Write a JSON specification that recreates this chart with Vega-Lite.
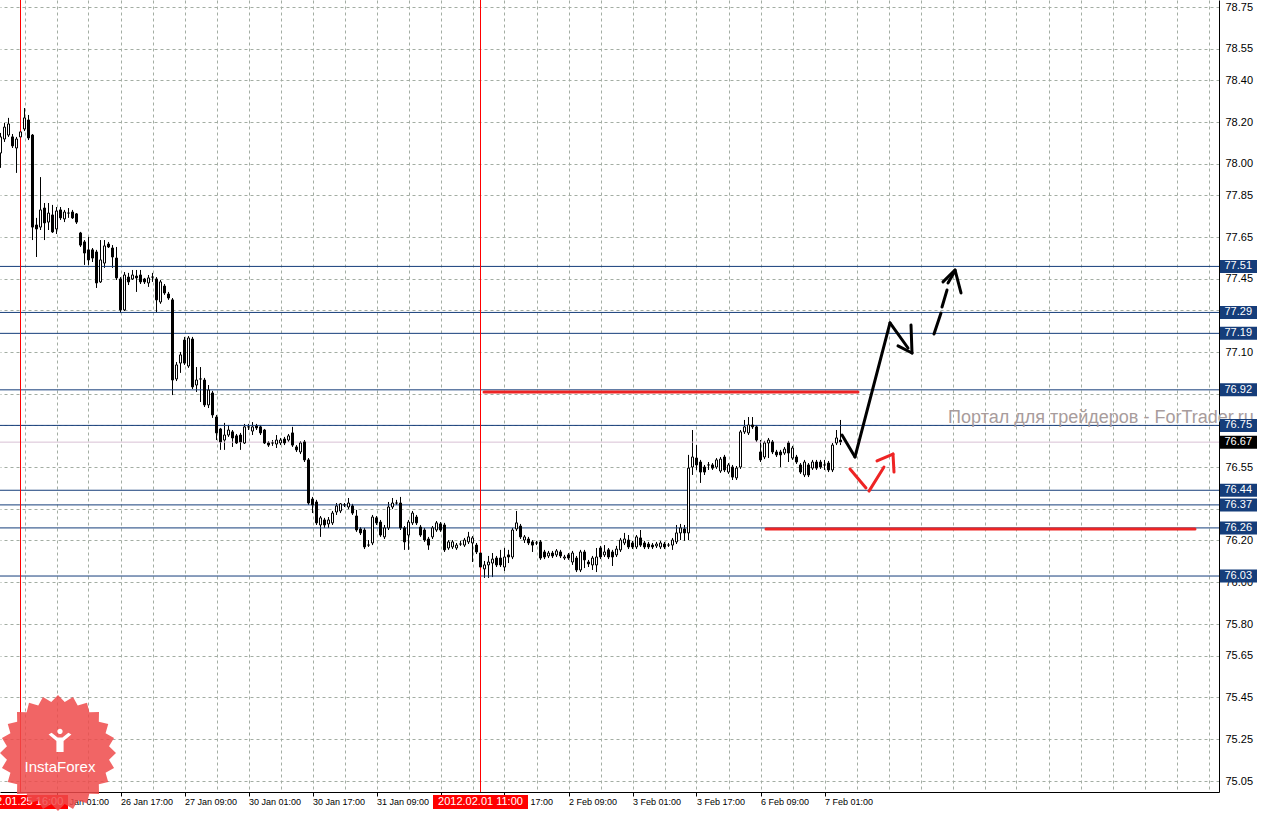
{
"$schema":"https://vega.github.io/schema/vega-lite/v6.json",
"width":1219,"height":792,
"autosize":{"type":"none"},
"padding":{"left":0,"top":0,"right":44,"bottom":23},
"background":"#FFFFFF",
"view":{"stroke":null},
"config":{"axis":{"labelOverlap":false,"labelFlush":false,"labelBound":false}},
"resolve":{"axis":{"x":"independent","y":"independent"}},
"datasets":{
"candles":[
{"i":-14,"o":78.052,"h":78.148,"l":77.981,"c":78.129},
{"i":-13,"o":78.119,"h":78.196,"l":78.105,"c":78.176},
{"i":-12,"o":78.138,"h":78.220,"l":78.129,"c":78.191},
{"i":-11,"o":78.129,"h":78.143,"l":78.076,"c":78.086},
{"i":-10,"o":78.076,"h":78.129,"l":77.957,"c":78.119},
{"i":-9,"o":78.129,"h":78.162,"l":78.119,"c":78.153},
{"i":-8,"o":78.167,"h":78.267,"l":78.157,"c":78.220},
{"i":-7,"o":78.210,"h":78.234,"l":78.114,"c":78.124},
{"i":-6,"o":78.138,"h":78.143,"l":77.636,"c":77.698},
{"i":-5,"o":77.708,"h":77.742,"l":77.555,"c":77.689},
{"i":-4,"o":77.698,"h":77.937,"l":77.684,"c":77.780},
{"i":-3,"o":77.789,"h":77.813,"l":77.636,"c":77.718},
{"i":-2,"o":77.722,"h":77.813,"l":77.684,"c":77.765},
{"i":-1,"o":77.756,"h":77.804,"l":77.670,"c":77.675},
{"i":0,"o":77.689,"h":77.794,"l":77.665,"c":77.775},
{"i":1,"o":77.780,"h":77.794,"l":77.732,"c":77.742},
{"i":2,"o":77.737,"h":77.780,"l":77.722,"c":77.770},
{"i":3,"o":77.765,"h":77.789,"l":77.742,"c":77.765},
{"i":4,"o":77.770,"h":77.780,"l":77.737,"c":77.742},
{"i":5,"o":77.761,"h":77.765,"l":77.713,"c":77.722},
{"i":6,"o":77.670,"h":77.675,"l":77.603,"c":77.612},
{"i":7,"o":77.627,"h":77.636,"l":77.517,"c":77.574},
{"i":8,"o":77.589,"h":77.651,"l":77.517,"c":77.541},
{"i":9,"o":77.589,"h":77.598,"l":77.531,"c":77.550},
{"i":10,"o":77.579,"h":77.589,"l":77.407,"c":77.431},
{"i":11,"o":77.436,"h":77.636,"l":77.431,"c":77.541},
{"i":12,"o":77.526,"h":77.636,"l":77.503,"c":77.608},
{"i":13,"o":77.617,"h":77.627,"l":77.598,"c":77.603},
{"i":14,"o":77.598,"h":77.612,"l":77.503,"c":77.555},
{"i":15,"o":77.550,"h":77.603,"l":77.445,"c":77.455},
{"i":16,"o":77.450,"h":77.459,"l":77.287,"c":77.302},
{"i":17,"o":77.302,"h":77.483,"l":77.297,"c":77.469},
{"i":18,"o":77.459,"h":77.479,"l":77.421,"c":77.436},
{"i":19,"o":77.450,"h":77.493,"l":77.445,"c":77.469},
{"i":20,"o":77.464,"h":77.493,"l":77.388,"c":77.455},
{"i":21,"o":77.469,"h":77.493,"l":77.426,"c":77.436},
{"i":22,"o":77.450,"h":77.455,"l":77.426,"c":77.436},
{"i":23,"o":77.431,"h":77.469,"l":77.412,"c":77.455},
{"i":24,"o":77.459,"h":77.479,"l":77.436,"c":77.459},
{"i":25,"o":77.450,"h":77.459,"l":77.292,"c":77.350},
{"i":26,"o":77.340,"h":77.445,"l":77.331,"c":77.436},
{"i":27,"o":77.416,"h":77.426,"l":77.374,"c":77.383},
{"i":28,"o":77.378,"h":77.388,"l":77.350,"c":77.359},
{"i":29,"o":77.350,"h":77.359,"l":76.895,"c":76.967},
{"i":30,"o":76.972,"h":77.053,"l":76.962,"c":77.039},
{"i":31,"o":77.048,"h":77.101,"l":77.001,"c":77.087},
{"i":32,"o":77.158,"h":77.173,"l":77.039,"c":77.048},
{"i":33,"o":77.034,"h":77.177,"l":77.025,"c":77.168},
{"i":34,"o":77.163,"h":77.173,"l":76.924,"c":76.934},
{"i":35,"o":76.943,"h":77.029,"l":76.910,"c":76.967},
{"i":36,"o":76.972,"h":77.029,"l":76.862,"c":76.972},
{"i":37,"o":76.967,"h":76.977,"l":76.838,"c":76.848},
{"i":38,"o":76.848,"h":76.943,"l":76.833,"c":76.919},
{"i":39,"o":76.905,"h":76.915,"l":76.786,"c":76.800},
{"i":40,"o":76.790,"h":76.800,"l":76.680,"c":76.714},
{"i":41,"o":76.733,"h":76.738,"l":76.633,"c":76.671},
{"i":42,"o":76.680,"h":76.762,"l":76.633,"c":76.704},
{"i":43,"o":76.704,"h":76.752,"l":76.695,"c":76.728},
{"i":44,"o":76.719,"h":76.728,"l":76.647,"c":76.690},
{"i":45,"o":76.700,"h":76.709,"l":76.661,"c":76.666},
{"i":46,"o":76.704,"h":76.714,"l":76.633,"c":76.671},
{"i":47,"o":76.666,"h":76.757,"l":76.661,"c":76.743},
{"i":48,"o":76.743,"h":76.757,"l":76.728,"c":76.743},
{"i":49,"o":76.723,"h":76.766,"l":76.704,"c":76.743},
{"i":50,"o":76.747,"h":76.757,"l":76.728,"c":76.738},
{"i":51,"o":76.743,"h":76.752,"l":76.704,"c":76.714},
{"i":52,"o":76.728,"h":76.733,"l":76.661,"c":76.666},
{"i":53,"o":76.666,"h":76.675,"l":76.647,"c":76.656},
{"i":54,"o":76.666,"h":76.680,"l":76.652,"c":76.666},
{"i":55,"o":76.661,"h":76.704,"l":76.642,"c":76.680},
{"i":56,"o":76.666,"h":76.690,"l":76.656,"c":76.680},
{"i":57,"o":76.685,"h":76.695,"l":76.656,"c":76.666},
{"i":58,"o":76.680,"h":76.709,"l":76.671,"c":76.700},
{"i":59,"o":76.714,"h":76.743,"l":76.647,"c":76.656},
{"i":60,"o":76.647,"h":76.656,"l":76.623,"c":76.633},
{"i":61,"o":76.623,"h":76.675,"l":76.613,"c":76.666},
{"i":62,"o":76.671,"h":76.680,"l":76.575,"c":76.585},
{"i":63,"o":76.585,"h":76.594,"l":76.370,"c":76.379},
{"i":64,"o":76.398,"h":76.408,"l":76.331,"c":76.370},
{"i":65,"o":76.384,"h":76.394,"l":76.274,"c":76.284},
{"i":66,"o":76.274,"h":76.317,"l":76.217,"c":76.308},
{"i":67,"o":76.298,"h":76.308,"l":76.260,"c":76.274},
{"i":68,"o":76.279,"h":76.312,"l":76.260,"c":76.298},
{"i":69,"o":76.284,"h":76.341,"l":76.274,"c":76.331},
{"i":70,"o":76.336,"h":76.379,"l":76.322,"c":76.365},
{"i":71,"o":76.341,"h":76.379,"l":76.331,"c":76.375},
{"i":72,"o":76.370,"h":76.379,"l":76.360,"c":76.370},
{"i":73,"o":76.360,"h":76.403,"l":76.350,"c":76.379},
{"i":74,"o":76.365,"h":76.375,"l":76.322,"c":76.331},
{"i":75,"o":76.317,"h":76.346,"l":76.241,"c":76.250},
{"i":76,"o":76.255,"h":76.264,"l":76.226,"c":76.236},
{"i":77,"o":76.250,"h":76.260,"l":76.159,"c":76.169},
{"i":78,"o":76.178,"h":76.202,"l":76.169,"c":76.178},
{"i":79,"o":76.188,"h":76.322,"l":76.178,"c":76.312},
{"i":80,"o":76.308,"h":76.317,"l":76.274,"c":76.284},
{"i":81,"o":76.288,"h":76.298,"l":76.217,"c":76.226},
{"i":82,"o":76.217,"h":76.274,"l":76.207,"c":76.260},
{"i":83,"o":76.260,"h":76.384,"l":76.250,"c":76.360},
{"i":84,"o":76.360,"h":76.403,"l":76.350,"c":76.379},
{"i":85,"o":76.379,"h":76.394,"l":76.370,"c":76.379},
{"i":86,"o":76.379,"h":76.408,"l":76.250,"c":76.260},
{"i":87,"o":76.260,"h":76.269,"l":76.155,"c":76.193},
{"i":88,"o":76.226,"h":76.298,"l":76.155,"c":76.288},
{"i":89,"o":76.284,"h":76.341,"l":76.274,"c":76.331},
{"i":90,"o":76.312,"h":76.322,"l":76.274,"c":76.284},
{"i":91,"o":76.264,"h":76.274,"l":76.217,"c":76.226},
{"i":92,"o":76.250,"h":76.260,"l":76.193,"c":76.202},
{"i":93,"o":76.207,"h":76.217,"l":76.155,"c":76.178},
{"i":94,"o":76.217,"h":76.269,"l":76.207,"c":76.260},
{"i":95,"o":76.250,"h":76.293,"l":76.241,"c":76.284},
{"i":96,"o":76.279,"h":76.288,"l":76.241,"c":76.250},
{"i":97,"o":76.274,"h":76.284,"l":76.145,"c":76.155},
{"i":98,"o":76.164,"h":76.202,"l":76.155,"c":76.193},
{"i":99,"o":76.169,"h":76.202,"l":76.159,"c":76.193},
{"i":100,"o":76.164,"h":76.188,"l":76.155,"c":76.178},
{"i":101,"o":76.183,"h":76.198,"l":76.174,"c":76.183},
{"i":102,"o":76.178,"h":76.212,"l":76.169,"c":76.202},
{"i":103,"o":76.193,"h":76.241,"l":76.183,"c":76.217},
{"i":104,"o":76.188,"h":76.221,"l":76.097,"c":76.212},
{"i":105,"o":76.178,"h":76.188,"l":76.135,"c":76.145},
{"i":106,"o":76.140,"h":76.150,"l":76.064,"c":76.073},
{"i":107,"o":76.064,"h":76.102,"l":76.021,"c":76.083},
{"i":108,"o":76.083,"h":76.126,"l":76.021,"c":76.097},
{"i":109,"o":76.092,"h":76.140,"l":76.025,"c":76.111},
{"i":110,"o":76.116,"h":76.126,"l":76.073,"c":76.083},
{"i":111,"o":76.116,"h":76.155,"l":76.073,"c":76.083},
{"i":112,"o":76.073,"h":76.164,"l":76.054,"c":76.121},
{"i":113,"o":76.131,"h":76.155,"l":76.092,"c":76.121},
{"i":114,"o":76.121,"h":76.260,"l":76.111,"c":76.250},
{"i":115,"o":76.255,"h":76.341,"l":76.245,"c":76.284},
{"i":116,"o":76.269,"h":76.279,"l":76.207,"c":76.217},
{"i":117,"o":76.202,"h":76.226,"l":76.188,"c":76.217},
{"i":118,"o":76.207,"h":76.217,"l":76.178,"c":76.188},
{"i":119,"o":76.193,"h":76.202,"l":76.145,"c":76.178},
{"i":120,"o":76.188,"h":76.198,"l":76.178,"c":76.188},
{"i":121,"o":76.193,"h":76.202,"l":76.107,"c":76.116},
{"i":122,"o":76.145,"h":76.155,"l":76.111,"c":76.121},
{"i":123,"o":76.126,"h":76.150,"l":76.116,"c":76.140},
{"i":124,"o":76.140,"h":76.150,"l":76.116,"c":76.126},
{"i":125,"o":76.131,"h":76.159,"l":76.121,"c":76.150},
{"i":126,"o":76.145,"h":76.155,"l":76.116,"c":76.126},
{"i":127,"o":76.116,"h":76.131,"l":76.107,"c":76.121},
{"i":128,"o":76.131,"h":76.140,"l":76.107,"c":76.116},
{"i":129,"o":76.097,"h":76.150,"l":76.083,"c":76.140},
{"i":130,"o":76.116,"h":76.126,"l":76.049,"c":76.059},
{"i":131,"o":76.059,"h":76.155,"l":76.049,"c":76.145},
{"i":132,"o":76.145,"h":76.155,"l":76.068,"c":76.107},
{"i":133,"o":76.097,"h":76.107,"l":76.073,"c":76.088},
{"i":134,"o":76.083,"h":76.126,"l":76.059,"c":76.116},
{"i":135,"o":76.083,"h":76.164,"l":76.049,"c":76.121},
{"i":136,"o":76.164,"h":76.174,"l":76.111,"c":76.121},
{"i":137,"o":76.131,"h":76.178,"l":76.121,"c":76.145},
{"i":138,"o":76.155,"h":76.164,"l":76.111,"c":76.121},
{"i":139,"o":76.145,"h":76.155,"l":76.078,"c":76.121},
{"i":140,"o":76.131,"h":76.174,"l":76.121,"c":76.159},
{"i":141,"o":76.155,"h":76.212,"l":76.145,"c":76.202},
{"i":142,"o":76.188,"h":76.236,"l":76.178,"c":76.207},
{"i":143,"o":76.202,"h":76.226,"l":76.159,"c":76.169},
{"i":144,"o":76.188,"h":76.198,"l":76.159,"c":76.169},
{"i":145,"o":76.169,"h":76.226,"l":76.159,"c":76.217},
{"i":146,"o":76.212,"h":76.250,"l":76.169,"c":76.178},
{"i":147,"o":76.188,"h":76.198,"l":76.159,"c":76.169},
{"i":148,"o":76.183,"h":76.193,"l":76.159,"c":76.169},
{"i":149,"o":76.178,"h":76.188,"l":76.159,"c":76.169},
{"i":150,"o":76.174,"h":76.193,"l":76.164,"c":76.183},
{"i":151,"o":76.169,"h":76.198,"l":76.159,"c":76.188},
{"i":152,"o":76.183,"h":76.193,"l":76.159,"c":76.169},
{"i":153,"o":76.178,"h":76.188,"l":76.169,"c":76.178},
{"i":154,"o":76.178,"h":76.212,"l":76.155,"c":76.202},
{"i":155,"o":76.193,"h":76.274,"l":76.183,"c":76.236},
{"i":156,"o":76.236,"h":76.279,"l":76.202,"c":76.260},
{"i":157,"o":76.255,"h":76.274,"l":76.198,"c":76.236},
{"i":158,"o":76.236,"h":76.609,"l":76.202,"c":76.546},
{"i":159,"o":76.551,"h":76.728,"l":76.513,"c":76.599},
{"i":160,"o":76.594,"h":76.656,"l":76.537,"c":76.561},
{"i":161,"o":76.575,"h":76.585,"l":76.475,"c":76.527},
{"i":162,"o":76.551,"h":76.561,"l":76.513,"c":76.527},
{"i":163,"o":76.561,"h":76.575,"l":76.537,"c":76.561},
{"i":164,"o":76.561,"h":76.570,"l":76.537,"c":76.546},
{"i":165,"o":76.551,"h":76.594,"l":76.542,"c":76.585},
{"i":166,"o":76.532,"h":76.599,"l":76.523,"c":76.589},
{"i":167,"o":76.599,"h":76.609,"l":76.527,"c":76.537},
{"i":168,"o":76.527,"h":76.570,"l":76.518,"c":76.561},
{"i":169,"o":76.551,"h":76.561,"l":76.489,"c":76.503},
{"i":170,"o":76.499,"h":76.556,"l":76.489,"c":76.546},
{"i":171,"o":76.551,"h":76.728,"l":76.542,"c":76.719},
{"i":172,"o":76.719,"h":76.776,"l":76.709,"c":76.743},
{"i":173,"o":76.714,"h":76.790,"l":76.704,"c":76.752},
{"i":174,"o":76.752,"h":76.790,"l":76.733,"c":76.743},
{"i":175,"o":76.743,"h":76.752,"l":76.671,"c":76.680},
{"i":176,"o":76.623,"h":76.680,"l":76.575,"c":76.585},
{"i":177,"o":76.599,"h":76.676,"l":76.589,"c":76.666},
{"i":178,"o":76.666,"h":76.690,"l":76.594,"c":76.680},
{"i":179,"o":76.671,"h":76.680,"l":76.613,"c":76.623},
{"i":180,"o":76.623,"h":76.633,"l":76.599,"c":76.609},
{"i":181,"o":76.623,"h":76.633,"l":76.551,"c":76.609},
{"i":182,"o":76.618,"h":76.647,"l":76.609,"c":76.637},
{"i":183,"o":76.666,"h":76.676,"l":76.575,"c":76.618},
{"i":184,"o":76.594,"h":76.652,"l":76.585,"c":76.642},
{"i":185,"o":76.599,"h":76.609,"l":76.566,"c":76.575},
{"i":186,"o":76.561,"h":76.570,"l":76.518,"c":76.527},
{"i":187,"o":76.513,"h":76.585,"l":76.503,"c":76.575},
{"i":188,"o":76.561,"h":76.570,"l":76.503,"c":76.513},
{"i":189,"o":76.546,"h":76.585,"l":76.537,"c":76.575},
{"i":190,"o":76.575,"h":76.585,"l":76.537,"c":76.546},
{"i":191,"o":76.575,"h":76.585,"l":76.542,"c":76.551},
{"i":192,"o":76.561,"h":76.585,"l":76.537,"c":76.561},
{"i":193,"o":76.570,"h":76.580,"l":76.527,"c":76.537},
{"i":194,"o":76.537,"h":76.666,"l":76.527,"c":76.656},
{"i":195,"o":76.666,"h":76.728,"l":76.656,"c":76.690},
{"i":196,"o":76.680,"h":76.776,"l":76.656,"c":76.671}
],
"levels":[
{"p":77.51,"k":"lvl"},{"p":77.29,"k":"lvl"},{"p":77.19,"k":"lvl"},{"p":76.92,"k":"lvl"},{"p":76.75,"k":"lvl"},
{"p":76.44,"k":"lvl"},{"p":76.37,"k":"lvl"},{"p":76.26,"k":"lvl"},{"p":76.03,"k":"lvl"},{"p":76.67,"k":"bid"}
],
"vlines":[{"i":-9,"t":"2012.01.25 16:00"},{"i":106,"t":"2012.02.01 11:00"}],
"segs":[
{"x":106.875,"y":76.910,"x2":200.375,"y2":76.910,"g":"r"},
{"x":177.375,"y":76.255,"x2":284.625,"y2":76.255,"g":"r"},
{"x":196.375,"y":76.704,"x2":199.625,"y2":76.599,"g":"k"},
{"x":199.625,"y":76.599,"x2":208.375,"y2":77.240,"g":"k"},
{"x":208.375,"y":77.240,"x2":212.875,"y2":77.120,"g":"k"},
{"x":210.375,"y":77.130,"x2":213.875,"y2":77.096,"g":"k"},
{"x":213.625,"y":77.230,"x2":213.875,"y2":77.096,"g":"k"},
{"x":219.375,"y":77.187,"x2":221.125,"y2":77.287,"g":"k"},
{"x":221.375,"y":77.316,"x2":222.625,"y2":77.397,"g":"k"},
{"x":222.875,"y":77.431,"x2":224.625,"y2":77.488,"g":"k"},
{"x":221.625,"y":77.436,"x2":224.625,"y2":77.493,"g":"k"},
{"x":224.625,"y":77.493,"x2":226.125,"y2":77.383,"g":"k"},
{"x":198.375,"y":76.542,"x2":202.375,"y2":76.451,"g":"r"},
{"x":203.125,"y":76.436,"x2":206.875,"y2":76.551,"g":"r"},
{"x":205.125,"y":76.580,"x2":209.125,"y2":76.613,"g":"r"},
{"x":209.125,"y":76.613,"x2":209.375,"y2":76.527,"g":"r"}
]
},
"layer":[
{"data":{"name":"candles"},
 "mark":{"type":"rule","color":"#000000","strokeWidth":1},
 "encoding":{
  "x":{"field":"i","type":"quantitative","title":null,"scale":{"domain":[-14.125,290.625],"nice":false,"zero":false,"padding":0},
   "axis":{"values":[-8,0,8,16,24,32,40,48,56,64,72,80,88,96,104,112,120,128,136,144,152,160,168,176,184,192,200,208,216,224,232,240,248,256,264,272,280,288],
    "grid":true,"gridColor":"#A3ADA3","gridDash":[3,3],"gridWidth":1,
    "domain":true,"domainColor":"#000000","domainWidth":1,
    "ticks":true,"tickSize":4,"tickColor":"#000000",
    "tickOpacity":{"condition":{"test":"datum.value % 16 === 0 && datum.value >= 0 && datum.value <= 192","value":1},"value":0},
    "labelExpr":"datum.value==0?'26 Jan 01:00':datum.value==16?'26 Jan 17:00':datum.value==32?'27 Jan 09:00':datum.value==48?'30 Jan 01:00':datum.value==64?'30 Jan 17:00':datum.value==80?'31 Jan 09:00':datum.value==96?'1 Feb 01:00':datum.value==112?'1 Feb 17:00':datum.value==128?'2 Feb 09:00':datum.value==144?'3 Feb 01:00':datum.value==160?'3 Feb 17:00':datum.value==176?'6 Feb 09:00':datum.value==192?'7 Feb 01:00':''",
    "labelAlign":"left","labelBaseline":"top","labelPadding":1,"labelFont":"Liberation Sans","labelFontSize":9,"labelColor":"#000000","labelOverlap":false,"labelFlush":false}},
  "y":{"field":"l","type":"quantitative","title":null,"scale":{"domain":[74.9976,78.7835],"nice":false,"zero":false,"padding":0},
   "axis":{"orient":"right","values":[78.75,78.55,78.40,78.20,78.00,77.85,77.65,77.45,77.30,77.10,76.90,76.75,76.55,76.35,76.20,76.00,75.80,75.65,75.45,75.25,75.05],
    "grid":true,"gridColor":"#A3ADA3","gridDash":[3,3],"gridWidth":1,
    "domain":true,"domainColor":"#000000","domainWidth":1,
    "ticks":false,"tickSize":0,"labelPadding":6,
    "labelExpr":"(abs(datum.value-77.30)<0.001||abs(datum.value-76.90)<0.001||abs(datum.value-76.75)<0.001||abs(datum.value-76.35)<0.001)?'':format(datum.value,'.2f')",
    "labelFont":"Liberation Sans","labelFontSize":11,"labelColor":"#000000","labelOverlap":false,"labelFlush":false}},
  "y2":{"field":"h"}}},
{"data":{"name":"levels"},"transform":[{"filter":"datum.k=='lvl'"}],
 "mark":{"type":"rule","color":"#153D7A","strokeWidth":1},
 "encoding":{"y":{"field":"p","type":"quantitative","axis":null,"scale":{"domain":[74.9976,78.7835],"nice":false,"zero":false,"padding":0}}}},
{"data":{"name":"levels"},"transform":[{"filter":"datum.k=='bid'"}],
 "mark":{"type":"rule","color":"#D8C0D4","strokeWidth":1},
 "encoding":{"y":{"field":"p","type":"quantitative","axis":null,"scale":{"domain":[74.9976,78.7835],"nice":false,"zero":false,"padding":0}}}},
{"data":{"name":"vlines"},
 "mark":{"type":"rule","color":"#FF0000","strokeWidth":1},
 "encoding":{"x":{"field":"i","type":"quantitative","axis":null,"scale":{"domain":[-14.125,290.625],"nice":false,"zero":false,"padding":0}}}},
{"data":{"name":"candles"},
 "mark":{"type":"bar","size":2,"stroke":"#000000","strokeWidth":1,"opacity":1},
 "encoding":{
  "x":{"field":"i","type":"quantitative","axis":null,"scale":{"domain":[-14.125,290.625],"nice":false,"zero":false,"padding":0}},
  "y":{"field":"o","type":"quantitative","axis":null,"scale":{"domain":[74.9976,78.7835],"nice":false,"zero":false,"padding":0}},
  "y2":{"field":"c"},
  "fill":{"condition":{"test":"datum.c < datum.o","value":"#000000"},"value":"#FFFFFF"}}},
{"data":{"name":"segs"},"transform":[{"filter":"datum.g=='r'"}],
 "mark":{"type":"rule","strokeWidth":3,"strokeCap":"round","color":"#EE2424"},
 "encoding":{
  "x":{"field":"x","type":"quantitative","axis":null,"scale":{"domain":[-14.125,290.625],"nice":false,"zero":false,"padding":0}},
  "y":{"field":"y","type":"quantitative","axis":null,"scale":{"domain":[74.9976,78.7835],"nice":false,"zero":false,"padding":0}},
  "x2":{"field":"x2"},"y2":{"field":"y2"}}},
{"data":{"name":"segs"},"transform":[{"filter":"datum.g=='k'"}],
 "mark":{"type":"rule","strokeWidth":3,"strokeCap":"round","color":"#000000"},
 "encoding":{
  "x":{"field":"x","type":"quantitative","axis":null,"scale":{"domain":[-14.125,290.625],"nice":false,"zero":false,"padding":0}},
  "y":{"field":"y","type":"quantitative","axis":null,"scale":{"domain":[74.9976,78.7835],"nice":false,"zero":false,"padding":0}},
  "x2":{"field":"x2"},"y2":{"field":"y2"}}},
{"data":{"values":[{"t":"Портал для трейдеров - ForTrader.ru"}]},
 "mark":{"type":"text","align":"left","baseline":"alphabetic","font":"Liberation Sans","fontSize":18,"color":"#A89C9C"},
 "encoding":{
  "x":{"datum":222.9,"type":"quantitative","axis":null,"scale":{"domain":[-14.125,290.625],"nice":false,"zero":false,"padding":0}},
  "y":{"datum":76.762,"type":"quantitative","axis":null,"scale":{"domain":[74.9976,78.7835],"nice":false,"zero":false,"padding":0}},
  "text":{"field":"t"}}},
{"data":{"name":"levels"},"transform":[{"filter":"datum.k=='lvl'"}],
 "mark":{"type":"tick","orient":"horizontal","size":37,"thickness":13,"opacity":1,"color":"#153D7A"},
 "encoding":{
  "x":{"datum":295.5,"type":"quantitative","axis":null,"scale":{"domain":[-14.125,290.625],"nice":false,"zero":false,"padding":0}},
  "y":{"field":"p","type":"quantitative","axis":null,"scale":{"domain":[74.9976,78.7835],"nice":false,"zero":false,"padding":0}}}},
{"data":{"name":"levels"},"transform":[{"filter":"datum.k=='bid'"}],
 "mark":{"type":"tick","orient":"horizontal","size":37,"thickness":13,"opacity":1,"color":"#000000"},
 "encoding":{
  "x":{"datum":295.5,"type":"quantitative","axis":null,"scale":{"domain":[-14.125,290.625],"nice":false,"zero":false,"padding":0}},
  "y":{"field":"p","type":"quantitative","axis":null,"scale":{"domain":[74.9976,78.7835],"nice":false,"zero":false,"padding":0}}}},
{"data":{"name":"levels"},
 "mark":{"type":"text","align":"left","baseline":"middle","font":"Liberation Sans","fontSize":11,"color":"#FFFFFF"},
 "encoding":{
  "x":{"datum":292,"type":"quantitative","axis":null,"scale":{"domain":[-14.125,290.625],"nice":false,"zero":false,"padding":0}},
  "y":{"field":"p","type":"quantitative","axis":null,"scale":{"domain":[74.9976,78.7835],"nice":false,"zero":false,"padding":0}},
  "text":{"field":"p","type":"quantitative","format":".2f"}}},
{"data":{"name":"vlines"},
 "mark":{"type":"tick","orient":"horizontal","size":95,"thickness":14,"color":"#FF0000","opacity":1},
 "encoding":{
  "x":{"field":"i","type":"quantitative","axis":null,"scale":{"domain":[-14.125,290.625],"nice":false,"zero":false,"padding":0}},
  "y":{"datum":74.950,"type":"quantitative","axis":null,"scale":{"domain":[74.9976,78.7835],"nice":false,"zero":false,"padding":0}}}},
{"data":{"name":"vlines"},
 "mark":{"type":"text","align":"center","baseline":"middle","font":"Liberation Sans","fontSize":11,"color":"#FFFFFF"},
 "encoding":{
  "x":{"field":"i","type":"quantitative","axis":null,"scale":{"domain":[-14.125,290.625],"nice":false,"zero":false,"padding":0}},
  "y":{"datum":74.950,"type":"quantitative","axis":null,"scale":{"domain":[74.9976,78.7835],"nice":false,"zero":false,"padding":0}},
  "text":{"field":"t"}}},
{"data":{"values":[{"t":"logo"}]},
 "mark":{"type":"point","filled":true,"color":"#EE4A4A","opacity":0.85,"size":13456,
  "shape":"M1,0L0.88,0.116L0.966,0.259L0.82,0.34L0.866,0.5L0.704,0.54L0.707,0.707L0.54,0.704L0.5,0.866L0.34,0.82L0.259,0.966L0.116,0.88L0,1L-0.116,0.88L-0.259,0.966L-0.34,0.82L-0.5,0.866L-0.54,0.704L-0.707,0.707L-0.704,0.54L-0.866,0.5L-0.82,0.34L-0.966,0.259L-0.88,0.116L-1,0L-0.88,-0.116L-0.966,-0.259L-0.82,-0.34L-0.866,-0.5L-0.704,-0.54L-0.707,-0.707L-0.54,-0.704L-0.5,-0.866L-0.34,-0.82L-0.259,-0.966L-0.116,-0.88L0,-1L0.116,-0.88L0.259,-0.966L0.34,-0.82L0.5,-0.866L0.54,-0.704L0.707,-0.707L0.704,-0.54L0.866,-0.5L0.82,-0.34L0.966,-0.259L0.88,-0.116Z"},
 "encoding":{
  "x":{"datum":0.375,"type":"quantitative","axis":null,"scale":{"domain":[-14.125,290.625],"nice":false,"zero":false,"padding":0}},
  "y":{"datum":75.184,"type":"quantitative","axis":null,"scale":{"domain":[74.9976,78.7835],"nice":false,"zero":false,"padding":0}}}},
{"data":{"values":[{"t":"icon"}]},
 "mark":{"type":"point","filled":true,"color":"#FFFFFF","opacity":1,"size":576,
  "shape":"M-0.22,-0.8A0.22,0.22 0 1,1 0.22,-0.8A0.22,0.22 0 1,1 -0.22,-0.8Z M-0.95,-0.55L-0.7,-0.7L-0.2,-0.3L0.2,-0.3L0.7,-0.7L0.95,-0.55L0.3,0L0.3,0.9L-0.3,0.9L-0.3,0Z"},
 "encoding":{
  "x":{"datum":0.875,"type":"quantitative","axis":null,"scale":{"domain":[-14.125,290.625],"nice":false,"zero":false,"padding":0}},
  "y":{"datum":75.241,"type":"quantitative","axis":null,"scale":{"domain":[74.9976,78.7835],"nice":false,"zero":false,"padding":0}}}},
{"data":{"values":[{"t":"InstaForex"}]},
 "mark":{"type":"text","align":"center","baseline":"middle","font":"Liberation Sans","fontSize":15,"color":"#FFFFFF"},
 "encoding":{
  "x":{"datum":0.875,"type":"quantitative","axis":null,"scale":{"domain":[-14.125,290.625],"nice":false,"zero":false,"padding":0}},
  "y":{"datum":75.117,"type":"quantitative","axis":null,"scale":{"domain":[74.9976,78.7835],"nice":false,"zero":false,"padding":0}},
  "text":{"field":"t"}}}
]
}
